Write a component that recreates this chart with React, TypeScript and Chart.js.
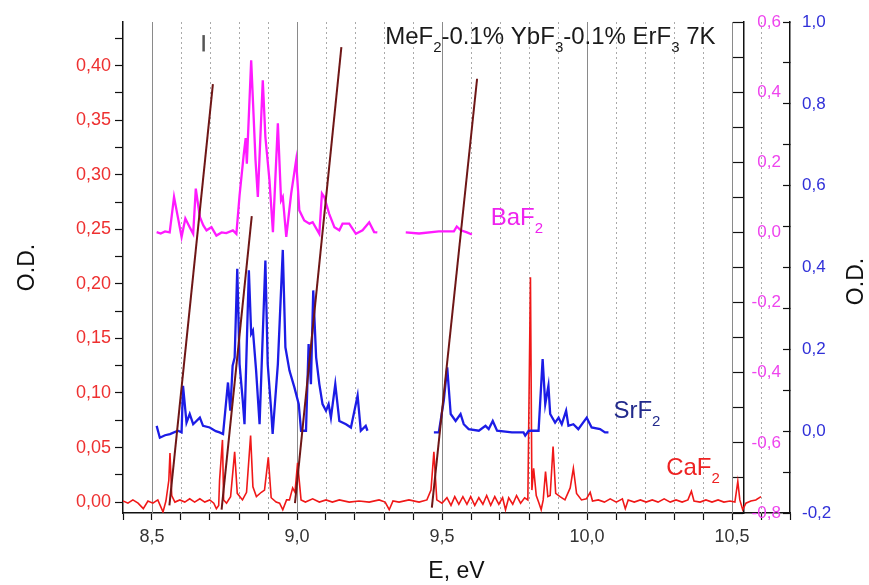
import React, { useEffect, useRef } from 'react';
import { Chart, registerables } from 'chart.js';

Chart.register(...registerables);

const FONT = '"Liberation Sans", Arial, Helvetica, sans-serif';

// ---- axis ticks ----
const xMajorTicks = [8.5, 9.0, 9.5, 10.0, 10.5];
const xMinorTicks = [8.4, 8.6, 8.7, 8.8, 8.9, 9.1, 9.2, 9.3, 9.4, 9.6, 9.7, 9.8, 9.9, 10.1, 10.2, 10.3, 10.4, 10.6, 10.7];
const caMajorTicks = [0, 0.05, 0.1, 0.15, 0.2, 0.25, 0.3, 0.35, 0.4];
const caMinorTicks = [0.025, 0.075, 0.125, 0.175, 0.225, 0.275, 0.325, 0.375, 0.425];
const baMajorTicks = [-0.8, -0.6, -0.4, -0.2, 0, 0.2, 0.4, 0.6];
const baMinorTicks = [-0.7, -0.5, -0.3, -0.1, 0.1, 0.3, 0.5];
const srMajorTicks = [-0.2, 0, 0.2, 0.4, 0.6, 0.8, 1.0];
const srMinorTicks = [-0.1, 0.1, 0.3, 0.5, 0.7, 0.9];

// ---- CaF2 (left axis) ----
const caF2Energy = [8.400, 8.417, 8.434, 8.452, 8.470, 8.486, 8.503, 8.520, 8.538, 8.548,
  8.558, 8.562, 8.568, 8.579, 8.596, 8.613, 8.630, 8.647, 8.665, 8.682,
  8.699, 8.713, 8.722, 8.730, 8.733, 8.743, 8.747, 8.757, 8.771, 8.785,
  8.794, 8.812, 8.826, 8.840, 8.848, 8.860, 8.877, 8.888, 8.901, 8.911,
  8.928, 8.940, 8.951, 8.964, 8.974, 8.985, 8.993, 9.002, 9.014, 9.029,
  9.054, 9.077, 9.100, 9.122, 9.146, 9.180, 9.214, 9.249, 9.283, 9.304,
  9.318, 9.331, 9.352, 9.386, 9.421, 9.448, 9.462, 9.472, 9.482, 9.500,
  9.517, 9.531, 9.544, 9.558, 9.572, 9.586, 9.599, 9.613, 9.627, 9.641,
  9.654, 9.668, 9.682, 9.696, 9.709, 9.719, 9.730, 9.744, 9.757, 9.771,
  9.785, 9.796, 9.805, 9.810, 9.816, 9.825, 9.833, 9.842, 9.849, 9.857,
  9.865, 9.873, 9.883, 9.892, 9.907, 9.924, 9.942, 9.953, 9.964, 9.981,
  9.998, 10.011, 10.019, 10.039, 10.060, 10.080, 10.101, 10.122, 10.132, 10.142,
  10.163, 10.184, 10.204, 10.225, 10.245, 10.266, 10.287, 10.307, 10.328, 10.348,
  10.360, 10.369, 10.390, 10.410, 10.431, 10.452, 10.472, 10.493, 10.510, 10.520,
  10.527, 10.537, 10.548, 10.565, 10.582, 10.600];
const caF2OD = [0.001, -0.001, 0.002, -0.001, -0.006, 0.001, -0.001, 0.002, -0.009, 0.001,
  0.020, 0.045, 0.006, 0.000, 0.002, 0.000, 0.003, 0.000, 0.003, 0.000,
  0.002, -0.001, -0.006, -0.003, 0.020, 0.057, 0.002, -0.001, 0.005, 0.046,
  0.008, 0.002, 0.009, 0.061, 0.014, 0.005, 0.009, 0.011, 0.041, 0.004,
  0.000, -0.001, -0.007, 0.002, 0.002, 0.013, 0.009, 0.036, 0.002, 0.000,
  0.003, 0.000, 0.002, 0.000, 0.002, 0.000, 0.001, 0.000, 0.002, 0.000,
  -0.007, 0.001, 0.000, 0.002, 0.000, 0.002, 0.011, 0.046, 0.002, -0.001,
  0.004, -0.003, 0.005, -0.002, 0.005, -0.002, 0.005, -0.003, 0.004, -0.002,
  0.006, -0.003, 0.005, -0.002, 0.004, -0.007, 0.004, -0.002, 0.006, -0.001,
  0.004, 0.002, 0.206, 0.011, 0.031, 0.006, 0.000, -0.007, 0.002, 0.028,
  0.005, 0.006, 0.051, 0.008, 0.005, 0.002, 0.013, 0.031, 0.008, 0.002,
  0.003, 0.009, 0.001, 0.002, 0.000, 0.003, 0.000, 0.003, -0.006, 0.002,
  0.000, 0.002, 0.000, 0.002, 0.000, 0.003, 0.000, 0.002, 0.000, 0.002,
  0.010, 0.001, 0.000, 0.002, 0.000, 0.002, 0.000, 0.001, 0.000, 0.019,
  0.002, -0.007, -0.001, 0.001, 0.002, 0.005];

// ---- BaF2 (magenta axis) ----
const baF2Energy = [8.516, 8.530, 8.545, 8.561, 8.576, 8.590, 8.602, 8.615, 8.630, 8.642,
  8.651, 8.665, 8.677, 8.688, 8.705, 8.722, 8.740, 8.756, 8.779, 8.791,
  8.802, 8.816, 8.823, 8.827, 8.842, 8.857, 8.865, 8.882, 8.891, 8.905,
  8.917, 8.934, 8.945, 8.951, 8.963, 8.980, 8.997, 9.008, 9.025, 9.043,
  9.054, 9.077, 9.086, 9.094, 9.111, 9.129, 9.146, 9.157, 9.180, 9.203,
  9.226, 9.249, 9.266, 9.277, 9.330,
  9.375, 9.421, 9.489, 9.541, 9.551, 9.565, 9.586, 9.603];
const baF2OD = [0.001, -0.003, 0.003, 0.000, 0.101, 0.040, -0.013, 0.040, 0.015, -0.004,
  0.125, 0.044, 0.020, 0.006, 0.015, -0.009, 0.000, -0.002, 0.006, -0.004,
  0.106, 0.220, 0.269, 0.196, 0.491, 0.206, 0.101, 0.434, 0.272, 0.149,
  0.001, 0.311, 0.091, 0.101, -0.013, 0.111, 0.206, 0.063, 0.034, 0.025,
  0.029, -0.004, 0.111, 0.101, 0.053, 0.015, 0.006, 0.025, 0.025, -0.004,
  0.006, 0.029, 0.001, 0.000, null,
  0.000, -0.003, 0.003, 0.003, 0.017, 0.006, 0.000, -0.006];

// ---- SrF2 (blue axis) ----
const srF2Energy = [8.516, 8.527, 8.545, 8.562, 8.589, 8.602, 8.607, 8.619, 8.630, 8.642,
  8.665, 8.676, 8.699, 8.720, 8.733, 8.745, 8.762, 8.770, 8.778, 8.785,
  8.794, 8.802, 8.813, 8.819, 8.834, 8.842, 8.848, 8.859, 8.871, 8.891,
  8.899, 8.911, 8.916, 8.934, 8.951, 8.960, 8.974, 8.991, 9.006, 9.014,
  9.031, 9.040, 9.048, 9.056, 9.066, 9.077, 9.088, 9.100, 9.109, 9.117,
  9.132, 9.146, 9.169, 9.186, 9.209, 9.220, 9.237, 9.243, 9.360,
  9.472, 9.489, 9.506, 9.518, 9.530, 9.547, 9.564, 9.575, 9.592, 9.627,
  9.650, 9.661, 9.675, 9.690, 9.741, 9.781, 9.787, 9.799, 9.833, 9.847,
  9.856, 9.867, 9.873, 9.890, 9.902, 9.913, 9.928, 9.936, 9.953, 9.970,
  9.999, 10.016, 10.045, 10.062, 10.074];
const srF2OD = [0.013, -0.016, -0.010, -0.007, 0.001, -0.003, 0.111, 0.021, 0.042, 0.017,
  0.033, 0.013, 0.009, 0.000, -0.003, -0.007, 0.119, 0.050, 0.160, 0.180,
  0.397, 0.164, 0.074, 0.017, 0.393, 0.238, 0.246, 0.148, 0.017, 0.417,
  0.164, 0.050, -0.007, 0.164, 0.443, 0.205, 0.148, 0.107, 0.066, 0.001,
  0.001, 0.213, 0.115, 0.344, 0.180, 0.115, 0.066, 0.050, 0.066, 0.033,
  0.115, 0.025, 0.017, 0.009, 0.087, 0.001, 0.013, 0.001, null,
  -0.003, -0.003, 0.074, 0.156, 0.042, 0.025, 0.042, 0.017, 0.005, 0.001,
  0.013, 0.005, 0.025, 0.001, -0.003, -0.003, -0.011, 0.001, 0.001, 0.176,
  0.066, 0.111, 0.042, 0.021, 0.033, 0.017, 0.050, 0.013, 0.017, 0.005,
  0.033, 0.009, 0.005, -0.003, -0.003];

// ---- guide lines (left axis units) ----
const guide1Energy = [8.560, 8.710];
const guide1OD = [-0.003, 0.383];
const guide2Energy = [8.740, 8.844];
const guide2OD = [-0.007, 0.262];
const guide3Energy = [8.993, 9.153];
const guide3OD = [-0.001, 0.417];
const guide4Energy = [9.465, 9.621];
const guide4OD = [-0.005, 0.388];
const markEnergy = [8.678, 8.678];
const markOD = [0.413, 0.428];

const zip = (xs: number[], ys: (number | null)[]) => xs.map((x, i) => ({ x, y: ys[i] }));
const isIn = (list: number[], v: number) => list.some((t) => Math.abs(t - v) < 1e-6);
const sorted = (a: number[], b: number[]) => [...a, ...b].sort((p, q) => p - q);
const fmt = (v: number, d: number) => v.toFixed(d).replace('.', ',');

type Part = [string, boolean];
function drawRich(ctx: CanvasRenderingContext2D, parts: Part[], x: number, y: number, size: number, color: string) {
  let cx = x;
  ctx.fillStyle = color;
  ctx.textAlign = 'left';
  ctx.textBaseline = 'alphabetic';
  for (const [t, sub] of parts) {
    ctx.font = `${sub ? Math.round(size * 0.62) : size}px ${FONT}`;
    ctx.fillText(t, cx, sub ? y + size * 0.33 : y);
    cx += ctx.measureText(t).width;
  }
}

const overlayPlugin = {
  id: 'overlay',
  beforeDatasetsDraw(chart: any) {
    const { ctx, chartArea, scales } = chart;
    const xs = scales.x;
    ctx.save();
    ctx.lineWidth = 1;
    ctx.strokeStyle = '#aaaaaa';
    ctx.setLineDash([2, 3]);
    for (const v of xMinorTicks) {
      if (v <= 8.41 || v >= 10.69) continue;
      const px = Math.round(xs.getPixelForValue(v)) + 0.5;
      ctx.beginPath();
      ctx.moveTo(px, chartArea.top);
      ctx.lineTo(px, chartArea.bottom);
      ctx.stroke();
    }
    ctx.setLineDash([]);
    ctx.strokeStyle = '#8a8a8a';
    for (const v of xMajorTicks) {
      const px = Math.round(xs.getPixelForValue(v)) + 0.5;
      ctx.beginPath();
      ctx.moveTo(px, chartArea.top);
      ctx.lineTo(px, chartArea.bottom);
      ctx.stroke();
    }
    ctx.restore();
  },
  afterDraw(chart: any) {
    const { ctx, scales, chartArea } = chart;
    const xs = scales.x;
    ctx.save();
    // magenta axis tick labels (right of the inner axis)
    const baX = xs.getPixelForValue(10.541) + 37;
    ctx.font = `17px ${FONT}`;
    ctx.fillStyle = '#ee44ee';
    ctx.textAlign = 'right';
    ctx.textBaseline = 'middle';
    for (const v of baMajorTicks) ctx.fillText(fmt(v, 1), baX, scales.yBa.getPixelForValue(v));

    drawRich(ctx, [['MeF', false], ['2', true], ['-0.1% YbF', false], ['3', true], ['-0.1% ErF', false], ['3', true], [' 7K', false]],
      xs.getPixelForValue(9.304), scales.y.getPixelForValue(0.42), 24, '#1a1a1a');
    drawRich(ctx, [['BaF', false], ['2', true]], xs.getPixelForValue(9.668), scales.yBa.getPixelForValue(0.02), 24, '#ee22ee');
    drawRich(ctx, [['SrF', false], ['2', true]], xs.getPixelForValue(10.091), scales.ySr.getPixelForValue(0.033), 24, '#222a8c');
    drawRich(ctx, [['CaF', false], ['2', true]], xs.getPixelForValue(10.273), scales.y.getPixelForValue(0.025), 24, '#ee2222');
    // right axis title
    ctx.translate(scales.ySr.right - 12, (chartArea.top + chartArea.bottom) / 2 + 14);
    ctx.rotate(-Math.PI / 2);
    ctx.font = `23px ${FONT}`;
    ctx.fillStyle = '#111';
    ctx.textAlign = 'center';
    ctx.textBaseline = 'middle';
    ctx.fillText('O.D.', 0, 0);
    ctx.restore();
  },
};

const line = (data: any[], color: string, width: number, axis: string) => ({
  type: 'line' as const,
  data,
  borderColor: color,
  backgroundColor: color,
  borderWidth: width,
  pointRadius: 0,
  tension: 0,
  spanGaps: false,
  yAxisID: axis,
});

export default function App() {
  const ref = useRef<HTMLCanvasElement>(null);
  useEffect(() => {
    if (!ref.current) return;
    const guideColor = '#6e1616';
    const chart = new Chart(ref.current, {
      type: 'line',
      data: {
        datasets: [
          line(zip(markEnergy, markOD), '#555555', 2.5, 'y'),
          line(zip(guide1Energy, guide1OD), guideColor, 2, 'y'),
          line(zip(guide2Energy, guide2OD), guideColor, 2, 'y'),
          line(zip(guide3Energy, guide3OD), guideColor, 2, 'y'),
          line(zip(guide4Energy, guide4OD), guideColor, 2, 'y'),
          line(zip(baF2Energy, baF2OD), '#ff1aff', 2.3, 'yBa'),
          line(zip(srF2Energy, srF2OD), '#1c1ce6', 2.3, 'ySr'),
          line(zip(caF2Energy, caF2OD), '#f01818', 1.6, 'y'),
        ] as any,
      },
      options: {
        animation: false,
        responsive: false,
        devicePixelRatio: 1,
        layout: { padding: { top: 22, left: 0, right: 0, bottom: 0 } },
        plugins: { legend: { display: false }, tooltip: { enabled: false } },
        scales: {
          x: {
            type: 'linear',
            position: 'bottom',
            min: 8.4,
            max: 10.7,
            afterBuildTicks: (s: any) => { s.ticks = sorted(xMajorTicks, xMinorTicks).map((v) => ({ value: v })); },
            afterFit: (s: any) => { s.height = 72; },
            ticks: {
              autoSkip: false,
              maxRotation: 0,
              padding: 6,
              color: '#333',
              font: { family: FONT, size: 18 },
              callback: (v: any) => (isIn(xMajorTicks, v) ? fmt(v, 1) : ''),
            },
            grid: { drawOnChartArea: false, tickLength: 7, tickColor: '#111', tickWidth: 1.2 },
            border: { color: '#111', width: 1.5 },
            title: { display: true, text: 'E, eV', color: '#111', font: { family: FONT, size: 23 }, padding: { top: 0, bottom: 0 } },
          },
          y: {
            type: 'linear',
            position: 'left',
            min: -0.01,
            max: 0.44,
            afterBuildTicks: (s: any) => { s.ticks = sorted(caMajorTicks, caMinorTicks).map((v) => ({ value: v })); },
            afterFit: (s: any) => { s.width = 123; s.paddingTop = 10; s.paddingBottom = 10; },
            ticks: {
              autoSkip: false,
              padding: 4,
              color: '#ee3030',
              font: { family: FONT, size: 18 },
              callback: (v: any) => (isIn(caMajorTicks, v) ? fmt(v, 2) : ''),
            },
            grid: { drawOnChartArea: false, tickLength: 8, tickColor: '#111', tickWidth: 1.2 },
            border: { color: '#111', width: 1.5 },
            title: { display: true, text: 'O.D.', color: '#111', font: { family: FONT, size: 23 }, padding: { top: 14, bottom: 0 } },
          },
          yBa: {
            type: 'linear',
            position: { x: 10.541 } as any,
            min: -0.8,
            max: 0.6,
            afterBuildTicks: (s: any) => { s.ticks = sorted(baMajorTicks, baMinorTicks).map((v) => ({ value: v })); },
            ticks: { display: false, autoSkip: false },
            grid: { drawOnChartArea: false, tickLength: 10, tickColor: '#111', tickWidth: 1.2 },
            border: { color: '#111', width: 1.5 },
          },
          ySr: {
            type: 'linear',
            position: 'right',
            min: -0.2,
            max: 1.0,
            afterBuildTicks: (s: any) => { s.ticks = sorted(srMajorTicks, srMinorTicks).map((v) => ({ value: v })); },
            afterFit: (s: any) => { s.width = 79; s.paddingTop = 10; s.paddingBottom = 10; },
            ticks: {
              autoSkip: false,
              padding: 19,
              color: '#3030d8',
              font: { family: FONT, size: 17 },
              callback: (v: any) => (isIn(srMajorTicks, v) ? fmt(v, 1) : ''),
            },
            grid: { drawOnChartArea: false, tickLength: -7, tickColor: '#111', tickWidth: 1.2 },
            border: { color: '#111', width: 1.5 },
          },
        },
      } as any,
      plugins: [overlayPlugin],
    });
    return () => chart.destroy();
  }, []);
  return (
    <div style={{ position: 'fixed', left: 0, top: 0, width: 869, height: 585, background: '#fff' }}>
      <canvas ref={ref} width={869} height={585} style={{ display: 'block' }} />
    </div>
  );
}
